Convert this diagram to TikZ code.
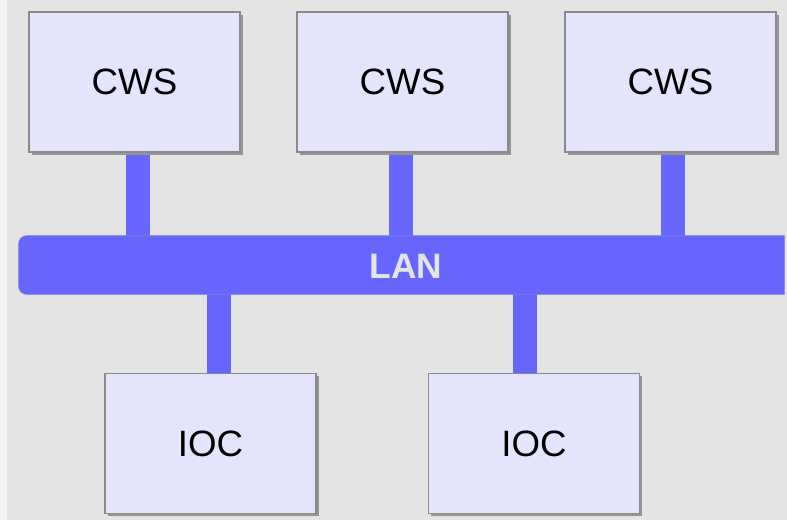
\documentclass[tikz,border=0pt]{standalone}
\usepackage{fontspec}
\setmainfont{Liberation Sans}
\usetikzlibrary{calc,shadows}
\definecolor{bgcol}{HTML}{E4E4E4}
\definecolor{stripcol}{HTML}{F4F4F4}
\definecolor{boxfill}{HTML}{E4E4FC}
\definecolor{boxline}{HTML}{8A8A8A}
\definecolor{shadowcol}{HTML}{959595}
\definecolor{lanblue}{HTML}{6666FF}
\definecolor{lanline}{HTML}{7A7AD8}
\pgfdeclarelayer{back}
\pgfdeclarelayer{links}
\pgfsetlayers{back,links,main}
\begin{document}
\begin{tikzpicture}[x=0.75pt,y=-0.75pt,
  station/.style={draw=boxline, fill=boxfill, line width=0.8pt,
    minimum width=158.25pt, minimum height=105pt, inner sep=0pt,
    drop shadow={shadow xshift=2.2pt, shadow yshift=-2.2pt,
      fill=shadowcol, opacity=1},
    font=\fontsize{27.5}{32}\selectfont},
  netbar/.style={draw=lanline, fill=lanblue, line width=0.6pt},
  link/.style={draw=lanblue, line width=18pt},
  lantext/.style={text=bgcol, font=\bfseries\fontsize{26.5}{30}\selectfont, inner sep=0pt}]

\begin{pgfonlayer}{back}
  \fill[bgcol] (0,0) rectangle (787,520);
  \fill[stripcol] (0,0) rectangle (7,520);
\end{pgfonlayer}
\useasboundingbox (0,0) rectangle (787,520);

% workstations and IOCs
\node[station] (cws1) at (134.5,82) {CWS};
\node[station] (cws2) at (402.5,82) {CWS};
\node[station] (cws3) at (670.5,82) {CWS};
\node[station] (ioc1) at (210.5,443.5) {IOC};
\node[station] (ioc2) at (534,443.5) {IOC};

% the network bar
\node[minimum width=573.75pt, minimum height=43.5pt, inner sep=0pt] (lan) at (401.5,265) {};
\draw[netbar] (lan.north) -- (lan.north east) -- (lan.south east) -- (lan.south)
  [rounded corners=6pt] -- (lan.south west) -- (lan.north west) -- cycle;
\node[lantext] (lanlabel) at (406,266) {LAN};

% taps onto the network
\coordinate (tap1) at ($(cws1.south)+(3.5,0)$);
\coordinate (tap2) at ($(cws2.south)+(-2,0)$);
\coordinate (tap3) at ($(cws3.south)+(2,0)$);
\coordinate (tap4) at ($(ioc1.north)+(8.5,0)$);
\coordinate (tap5) at ($(ioc2.north)+(-9.5,0)$);
\begin{pgfonlayer}{links}
  \draw[link] (tap1) -- (tap1 |- lan.north);
  \draw[link] (tap2) -- (tap2 |- lan.north);
  \draw[link] (tap3) -- (tap3 |- lan.north);
  \draw[link] (tap4) -- (tap4 |- lan.south);
  \draw[link] (tap5) -- (tap5 |- lan.south);
\end{pgfonlayer}
\end{tikzpicture}
\end{document}
